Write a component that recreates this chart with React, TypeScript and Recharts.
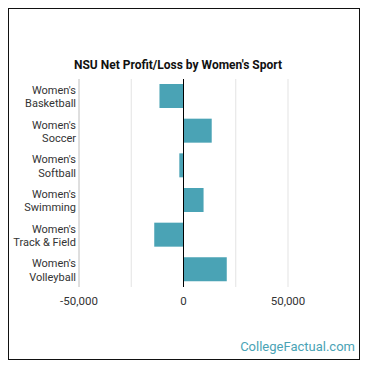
import { BarChart, Bar, XAxis, YAxis, CartesianGrid, ReferenceLine } from 'recharts';

const sports = ['Basketball', 'Soccer', 'Softball', 'Swimming', 'Track & Field', 'Volleyball'];
const netProfit = [-11500, 13500, -2000, 9600, -14000, 20700];
const xTicks = [-50000, -25000, 0, 25000, 50000];
const xLabels = ['-50,000', '', '0', '', '50,000'];

const data = sports.map((s, i) => ({ sport: s, value: netProfit[i] }));

const FONT = 'Roboto, sans-serif';

function SportTick(props: any) {
  const { y, payload } = props;
  const x = 67;
  return (
    <text x={x} y={y} textAnchor="end" fontFamily={FONT} fontSize={11} fill="#333">
      <tspan x={x} dy={-2.5}>Women's</tspan>
      <tspan x={x} dy={13.5}>{payload.value}</tspan>
    </text>
  );
}

export default function App() {
  return (
    <div
      style={{
        position: 'relative',
        width: 350,
        height: 350,
        border: '1px solid #111',
        fontFamily: FONT,
        background: '#fff',
      }}
    >
      <div
        style={{
          position: 'absolute',
          left: 0,
          width: 338,
          top: 49,
          textAlign: 'center',
          fontWeight: 'bold',
          fontSize: 12,
          color: '#111',
        }}
      >
        NSU Net Profit/Loss by Women's Sport
      </div>
      <BarChart
        width={350}
        height={350}
        layout="vertical"
        data={data}
        margin={{ top: 70, right: 71, bottom: 42, left: 0 }}
      >
        <CartesianGrid horizontal={false} stroke="#e3e3e3" />
        <XAxis
          type="number"
          domain={[-50000, 50000]}
          ticks={xTicks}
          tickFormatter={(v: number) => xLabels[xTicks.indexOf(v)]}
          axisLine={false}
          tickLine={false}
          height={30}
          tick={{ fontFamily: FONT, fontSize: 11.5, fill: '#333' }}
          tickMargin={4}
        />
        <YAxis
          type="category"
          dataKey="sport"
          width={70}
          tickLine={false}
          axisLine={{ stroke: '#ccc' }}
          tick={<SportTick />}
          interval={0}
        />
        <Bar dataKey="value" fill="#4aa3b5" barSize={24} isAnimationActive={false} />
        <ReferenceLine x={0} stroke="#000" strokeWidth={1} />
      </BarChart>
      <div
        style={{
          position: 'absolute',
          right: 4,
          top: 330,
          fontSize: 13,
          color: '#4aa3b5',
        }}
      >
        CollegeFactual.com
      </div>
    </div>
  );
}
